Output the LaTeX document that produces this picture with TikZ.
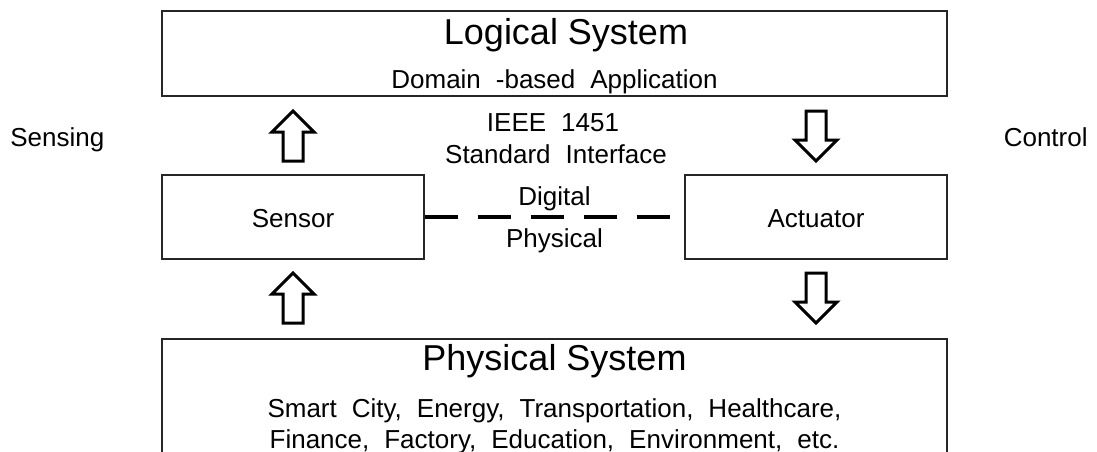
\documentclass[tikz,border=0pt]{standalone}
\usepackage{fontspec}
\setmainfont{Liberation Sans}

\begin{document}
\begin{tikzpicture}[x=0.5pt,y=-0.5pt,
        box/.style={draw=black!85,line width=0.6pt,inner sep=0pt},
        big/.style={font=\fontsize{18}{21}\selectfont,anchor=base,inner sep=0pt},
        small/.style={font={\fontsize{13}{15.5}\selectfont\spaceskip=7.5pt plus 1pt\relax},anchor=base,inner sep=0pt},
        blockup/.pic={\draw[line width=1.5pt,line join=miter,fill=white]
            (0,0)--(21,21)--(10,21)--(10,50)--(-10,50)--(-10,21)--(-21,21)--cycle;}]
        \clip (0,0) rectangle (1097,451);
        % boxes
        \node[box,minimum width=392.5pt,minimum height=42.5pt] (logical) at (554.5,53.5) {};
        \node[box,minimum width=131pt,minimum height=42pt] (sensor) at (293,217) {};
        \node[box,minimum width=131pt,minimum height=42pt] (actuator) at (816,217) {};
        \node[box,minimum width=392.5pt,minimum height=70.5pt] (physical) at (554.5,409.5) {};
        % texts
        \node[big] (logicaltitle) at (566,44) {Logical System};
        \node[small] (domain) at (554.5,88) {Domain -based Application};
        \node[small] (ieee) at (553,131) {IEEE 1451};
        \node[small] (interface) at (556,163) {Standard Interface};
        \node[small,anchor=base west] (sensing) at (10,146) {Sensing};
        \node[small,anchor=base east] (control) at (1088,146) {Control};
        \node[small] (sensortext) at (293,227) {Sensor};
        \node[small] (actuatortext) at (816,227) {Actuator};
        \node[small] (digital) at (554.5,205) {Digital};
        \node[small] (physicaltext) at (554.5,247) {Physical};
        \node[big] (physicaltitle) at (554.5,370) {Physical System};
        \node[small] (smartline) at (554.5,417) {Smart City, Energy, Transportation, Healthcare,};
        \node[small] (financeline) at (554.5,448) {Finance, Factory, Education, Environment, etc.};
        % digital / physical border
        \draw[line width=2pt,dash pattern=on 16.5pt off 10pt] (sensor.east) -- (actuator.west);
        % block arrows
        \pic at (293,111) {blockup};
        \pic[rotate=180] at (816,161) {blockup};
        \pic at (293,273) {blockup};
        \pic[rotate=180] at (816,323) {blockup};
      \end{tikzpicture}
\end{document}
